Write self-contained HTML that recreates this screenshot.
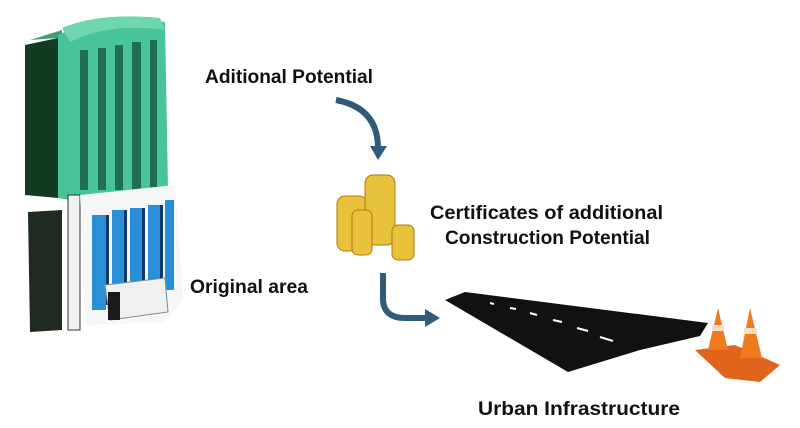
<!DOCTYPE html>
<html><head><style>
html,body{margin:0;padding:0;background:#fff;}
svg{display:block;}
text{font-family:"Liberation Sans",sans-serif;font-weight:bold;fill:#111;}
</style></head><body>
<svg width="800" height="428" viewBox="0 0 800 428" xmlns="http://www.w3.org/2000/svg">
<!-- building upper -->
<path d="M25,45 L58,38 L58,198 L25,195 Z" fill="#143a22"/>
<path d="M30,40 L62,30 L62,198 L58,198 L58,38 Z" fill="#3f9e73"/>
<path d="M58,35 Q100,15 165,22 L168,190 L70,200 L58,198 Z" fill="#48c49a"/>
<path d="M62,28 Q100,12 160,18 L165,30 Q110,22 70,42 Z" fill="#6fd6b0"/>
<g fill="#1f6e55">
<rect x="80" y="50" width="8" height="140"/><rect x="98" y="48" width="8" height="142"/>
<rect x="115" y="45" width="8" height="145"/><rect x="132" y="42" width="9" height="148"/><rect x="150" y="40" width="7" height="148"/>
</g>
<!-- building lower -->
<path d="M28,212 L62,210 L62,330 L30,332 Z" fill="#1e2a22"/>
<rect x="68" y="195" width="12" height="135" fill="#f2f2f2" stroke="#333" stroke-width="1"/>
<path d="M80,195 L175,185 L183,300 L165,322 L85,325 Z" fill="#f4f6f8"/>
<g fill="#2a8fd6">
<rect x="92" y="215" width="14" height="95"/><rect x="112" y="210" width="12" height="75"/>
<rect x="130" y="208" width="12" height="75"/><rect x="148" y="205" width="12" height="90"/><rect x="165" y="200" width="9" height="90"/>
</g>
<g fill="#0d3a6a">
<rect x="106" y="215" width="3" height="90"/><rect x="124" y="210" width="3" height="75"/><rect x="142" y="208" width="3" height="75"/><rect x="160" y="205" width="3" height="85"/>
</g>
<path d="M105,285 L165,278 L168,312 L110,320 Z" fill="#f0f0f0" stroke="#888" stroke-width="1"/>
<rect x="108" y="292" width="12" height="28" fill="#1a1a1a"/>
<!-- arrows -->
<path d="M336,100 Q378,108 378,148" fill="none" stroke="#2f5a7a" stroke-width="6"/>
<path d="M370,146 L387,146 L378,160 Z" fill="#2f5a7a"/>
<path d="M383,273 L383,300 Q384,318 405,318 L425,318" fill="none" stroke="#2f5a7a" stroke-width="6"/>
<path d="M425,309 L440,318 L425,327 Z" fill="#2f5a7a"/>
<!-- coins -->
<g fill="#e8c23a" stroke="#b07a10" stroke-width="1">
<rect x="337" y="196" width="30" height="55" rx="8"/>
<rect x="365" y="175" width="30" height="70" rx="8"/>
<rect x="392" y="225" width="22" height="35" rx="6"/>
<rect x="352" y="210" width="20" height="45" rx="6"/>
</g>
<!-- road -->
<polygon points="445,300 465,292 708,323 700,336 640,350 568,372" fill="#111"/>
<g stroke="#fff" stroke-width="2">
<line x1="490" y1="303" x2="494" y2="304"/><line x1="510" y1="308" x2="516" y2="309"/><line x1="530" y1="313" x2="537" y2="315"/>
<line x1="553" y1="320" x2="562" y2="322"/><line x1="577" y1="328" x2="588" y2="331"/><line x1="600" y1="337" x2="613" y2="341"/>
</g>
<!-- cones -->
<path d="M695,350 L735,345 L780,365 L760,382 L725,378 Z" fill="#e0641a"/>
<path d="M708,350 L718,308 L728,350 Z" fill="#f07a20"/>
<path d="M740,358 L750,308 L762,358 Z" fill="#f07a20"/>
<rect x="712" y="325" width="12" height="6" fill="#f4e0c0"/>
<rect x="744" y="328" width="13" height="6" fill="#f4e0c0"/>
<!-- labels -->
<text x="205" y="83" font-size="19" textLength="168" lengthAdjust="spacingAndGlyphs">Aditional Potential</text>
<text x="430" y="219" font-size="19" textLength="233" lengthAdjust="spacingAndGlyphs">Certificates of additional</text>
<text x="445" y="244" font-size="19" textLength="205" lengthAdjust="spacingAndGlyphs">Construction Potential</text>
<text x="190" y="293" font-size="19" textLength="118" lengthAdjust="spacingAndGlyphs">Original area</text>
<text x="478" y="415" font-size="19" textLength="202" lengthAdjust="spacingAndGlyphs">Urban Infrastructure</text>
</svg>
</body></html>
